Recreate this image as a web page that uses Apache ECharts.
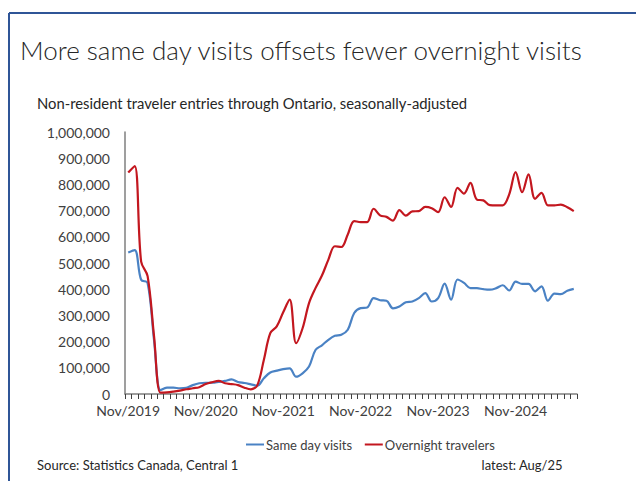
<!DOCTYPE html>
<html>
<head>
<meta charset="utf-8">
<script src="https://cdn.jsdelivr.net/npm/echarts@6/dist/echarts.min.js"></script>
<style>
html,body{margin:0;padding:0;background:#fff;}
#chart{width:636px;height:481px;}
</style>
</head>
<body>
<div id="chart"></div>
<script>
// Months Nov/2019 .. Aug/2025 (70 monthly observations)
var months = ["2019-11","2019-12",
"2020-01","2020-02","2020-03","2020-04","2020-05","2020-06","2020-07","2020-08","2020-09","2020-10","2020-11","2020-12",
"2021-01","2021-02","2021-03","2021-04","2021-05","2021-06","2021-07","2021-08","2021-09","2021-10","2021-11","2021-12",
"2022-01","2022-02","2022-03","2022-04","2022-05","2022-06","2022-07","2022-08","2022-09","2022-10","2022-11","2022-12",
"2023-01","2023-02","2023-03","2023-04","2023-05","2023-06","2023-07","2023-08","2023-09","2023-10","2023-11","2023-12",
"2024-01","2024-02","2024-03","2024-04","2024-05","2024-06","2024-07","2024-08","2024-09","2024-10","2024-11","2024-12",
"2025-01","2025-02","2025-03","2025-04","2025-05","2025-06","2025-07","2025-08"];

var tickLabels = ["Nov/2019","Nov/2020","Nov-2021","Nov-2022","Nov-2023","Nov-2024"];

var sameDay = [540000,549000,436000,424000,205000,15000,24000,24000,22000,24000,34000,41000,43000,43000,
46000,50000,56000,46000,42000,37000,32000,60000,82000,89000,95000,98000,
66000,79000,105000,168000,186000,207000,222000,226000,245000,309000,328000,330000,
366000,358000,356000,327000,334000,350000,353000,366000,385000,353000,366000,421000,
360000,437000,424000,404000,404000,400000,398000,404000,415000,395000,429000,420000,
420000,392000,411000,356000,383000,381000,394000,401000];

var overnight = [845000,870000,505000,450000,220000,5000,6000,9000,13000,18000,22000,26000,38000,45000,
50000,41000,38000,34000,24000,18000,34000,130000,232000,258000,312000,360000,
194000,251000,347000,404000,452000,513000,564000,561000,609000,660000,656000,656000,
707000,682000,676000,662000,702000,681000,697000,698000,714000,709000,694000,751000,
714000,787000,765000,806000,742000,739000,721000,720000,720000,762000,847000,770000,
838000,745000,768000,720000,720000,723000,713000,698000];

var seriesNames = ["Same day visits","Overnight travelers"];

var chart = echarts.init(document.getElementById('chart'), null, {renderer:'svg'});
var FONT = 'Lato';
var TXT = '#404040';

chart.setOption({
  animation:false,
  backgroundColor:'#ffffff',
  textStyle:{fontFamily:FONT},
  graphic:[
    {type:'line', shape:{x1:9,y1:13,x2:636,y2:13}, style:{stroke:'#2F5597',lineWidth:2}},
    {type:'line', shape:{x1:9,y1:13,x2:9,y2:481}, style:{stroke:'#2F5597',lineWidth:2}},
    {type:'text', left:20, top:37, style:{text:'More same day visits offsets fewer overnight visits', font:'300 26px Lato', fill:'#262626'}},
    {type:'text', left:37, top:95, style:{text:'Non-resident traveler entries through Ontario, seasonally-adjusted', font:'14.8px Lato', fill:'#262626'}},
    {type:'text', left:37, top:458, style:{text:'Source: Statistics Canada, Central 1', font:'13px Lato', fill:'#262626'}},
    {type:'text', right:73, top:458, style:{text:'latest: Aug/25', font:'13px Lato', fill:'#262626'}}
  ],
  legend:{
    data:seriesNames,
    left:241, top:433,
    icon:'rect', itemWidth:18, itemHeight:2, itemGap:12,
    textStyle:{fontFamily:FONT, fontSize:13, color:TXT, padding:[0,0,0,-3]}
  },
  grid:{left:125, right:59, top:132, bottom:87, containLabel:false},
  xAxis:{
    type:'category',
    data:months,
    boundaryGap:true,
    axisLine:{lineStyle:{color:'#7f7f7f', width:1.5}},
    axisTick:{show:true, interval:0, length:5, lineStyle:{color:'#404040'}},
    axisLabel:{
      interval:11, margin:9, fontSize:14, color:TXT, fontFamily:FONT,
      formatter:function(v, i){ return tickLabels[Math.round(i/12)]; }
    },
    splitLine:{show:false}
  },
  yAxis:{
    type:'value', min:0, max:1000000, interval:100000,
    axisLine:{show:true, lineStyle:{color:'#7f7f7f', width:1.5}},
    axisTick:{show:false},
    splitLine:{show:false},
    axisLabel:{
      margin:15, fontSize:14, color:TXT, fontFamily:FONT,
      formatter:function(v){ return v.toString().replace(/\B(?=(\d{3})+(?!\d))/g, ','); }
    }
  },
  series:[
    {name:seriesNames[0], type:'line', data:sameDay, smooth:0.35, showSymbol:false,
     lineStyle:{color:'#4a82c4', width:2.2}, itemStyle:{color:'#4a82c4'}},
    {name:seriesNames[1], type:'line', data:overnight, smooth:0.35, showSymbol:false,
     lineStyle:{color:'#c3171f', width:2.2}, itemStyle:{color:'#c3171f'}}
  ]
});
</script>
</body>
</html>
